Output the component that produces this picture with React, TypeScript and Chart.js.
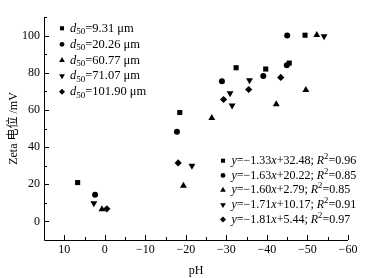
import React, { useEffect, useRef } from 'react';
import { Chart, registerables } from 'chart.js';

Chart.register(...registerables);

// ---- data ----
const xTicks = [10, 0, -10, -20, -30, -40, -50, -60];
const yTicks = [0, 20, 40, 60, 80, 100];
const sizeLabels = ['9.31', '20.26', '60.77', '71.07', '101.90'];
const slopes = ['1.33', '1.63', '1.60', '1.71', '1.81'];
const intercepts = ['32.48', '20.22', '2.79', '10.17', '5.44'];
const r2Values = ['0.96', '0.85', '0.85', '0.91', '0.97'];

const x931 = [6.7, -18.5, -32.4, -39.7, -45.5, -49.4];
const y931 = [20.9, 58.6, 82.7, 82.0, 85.2, 100.2];
const x2026 = [2.4, -17.8, -28.9, -39.1, -44.9, -45.0];
const y2026 = [14.3, 48.2, 75.4, 78.2, 84.0, 100.1];
const x6077 = [0.7, -19.4, -26.4, -42.3, -49.6, -52.3];
const y6077 = [6.5, 19.2, 55.6, 63.1, 70.7, 100.3];
const x7107 = [2.7, -21.5, -30.9, -31.4, -35.7, -54.1];
const y7107 = [9.8, 30.0, 69.0, 62.4, 75.9, 99.7];
const x10190 = [-0.5, -18.1, -29.3, -35.5, -43.4];
const y10190 = [6.8, 31.5, 65.6, 71.0, 77.5];

const seriesX = [x931, x2026, x6077, x7107, x10190];
const seriesY = [y931, y2026, y6077, y7107, y10190];

const markerStyles = ['rect', 'circle', 'triangle', 'triangle', 'rectRot'];
const markerRotations = [0, 0, 0, 180, 0];
const markerRadii = [3.6, 3.0, 4.0, 4.0, 3.6];
const legendRadii = [2.9, 2.4, 3.3, 3.3, 3.0];

const SERIF = '"Liberation Serif", "Times New Roman", serif';

type Part = { t: string; italic?: boolean; sub?: boolean; sup?: boolean };

function drawRich(ctx: CanvasRenderingContext2D, x: number, y: number, parts: Part[], size: number) {
  let cx = x;
  ctx.textAlign = 'left';
  ctx.textBaseline = 'middle';
  ctx.fillStyle = '#000';
  for (const p of parts) {
    const fs = p.sub || p.sup ? size * 0.72 : size;
    ctx.font = `${p.italic ? 'italic ' : ''}${fs}px ${SERIF}`;
    const dy = p.sub ? size * 0.3 : p.sup ? -size * 0.33 : 0;
    ctx.fillText(p.t, cx, y + dy);
    cx += ctx.measureText(p.t).width;
  }
}

function drawMarker(ctx: CanvasRenderingContext2D, style: string, rot: number, x: number, y: number, r: number) {
  ctx.beginPath();
  if (style === 'rect') {
    const s = r * Math.SQRT1_2;
    ctx.rect(x - s, y - s, 2 * s, 2 * s);
  } else if (style === 'circle') {
    ctx.arc(x, y, r, 0, Math.PI * 2);
  } else if (style === 'triangle') {
    let rad = (rot * Math.PI) / 180;
    for (let i = 0; i < 3; i++) {
      const px = x + Math.sin(rad) * r;
      const py = y - Math.cos(rad) * r;
      if (i === 0) ctx.moveTo(px, py);
      else ctx.lineTo(px, py);
      rad += (2 * Math.PI) / 3;
    }
    ctx.closePath();
  } else if (style === 'rectRot') {
    ctx.moveTo(x, y - r);
    ctx.lineTo(x + r, y);
    ctx.lineTo(x, y + r);
    ctx.lineTo(x - r, y);
    ctx.closePath();
  }
  ctx.fillStyle = '#000';
  ctx.fill();
}

const overlayPlugin = {
  id: 'overlay',
  afterDraw(chart: any) {
    const ctx: CanvasRenderingContext2D = chart.ctx;
    const xs = chart.scales.x;
    const ys = chart.scales.y;
    const { left, right, top, bottom } = chart.chartArea;
    ctx.save();
    ctx.strokeStyle = '#000';
    ctx.lineWidth = 1;
    // axis lines
    ctx.beginPath();
    ctx.moveTo(left + 0.5, top);
    ctx.lineTo(left + 0.5, bottom + 0.5);
    ctx.lineTo(right, bottom + 0.5);
    ctx.stroke();
    // x ticks (inward)
    for (let v = 10; v >= -60; v -= 5) {
      const px = Math.round(xs.getPixelForValue(v)) + 0.5;
      const len = v % 10 === 0 ? 5 : 3;
      ctx.beginPath();
      ctx.moveTo(px, bottom);
      ctx.lineTo(px, bottom - len);
      ctx.stroke();
    }
    // y ticks (inward)
    for (let v = 0; v <= 110; v += 10) {
      const py = Math.round(ys.getPixelForValue(v)) + 0.5;
      const len = v % 20 === 0 ? 5 : 3;
      ctx.beginPath();
      ctx.moveTo(left, py);
      ctx.lineTo(left + len, py);
      ctx.stroke();
    }
    // legend 1
    const l1Rows = [28.3, 44.3, 60.3, 76, 91.7];
    sizeLabels.forEach((s, i) => {
      drawMarker(ctx, markerStyles[i], markerRotations[i], 62, l1Rows[i], legendRadii[i]);
      drawRich(ctx, 70, l1Rows[i], [
        { t: 'd', italic: true },
        { t: '50', sub: true },
        { t: '=' + s + ' \u03bcm' },
      ], 12.5);
    });
    // legend 2
    const l2Rows = [160.7, 175.4, 190.1, 204.8, 219.5];
    slopes.forEach((s, i) => {
      drawMarker(ctx, markerStyles[i], markerRotations[i], 223, l2Rows[i], legendRadii[i]);
      drawRich(ctx, 231.5, l2Rows[i], [
        { t: 'y', italic: true },
        { t: '=\u2212' + s },
        { t: 'x', italic: true },
        { t: '+' + intercepts[i] + '; ' },
        { t: 'R', italic: true },
        { t: '2', sup: true },
        { t: '=' + r2Values[i] },
      ], 12);
    });
    ctx.restore();
  },
};

export default function App() {
  const ref = useRef<HTMLCanvasElement | null>(null);
  useEffect(() => {
    if (!ref.current) return;
    const datasets = seriesX.map((xs, i) => ({
      label: sizeLabels[i],
      data: xs.map((x, j) => ({ x, y: seriesY[i][j] })),
      showLine: false,
      pointStyle: markerStyles[i] as any,
      pointRotation: markerRotations[i],
      pointRadius: markerRadii[i],
      pointBackgroundColor: '#000',
      pointBorderColor: '#000',
      pointBorderWidth: 0,
      backgroundColor: '#000',
      borderColor: '#000',
    }));
    const chart = new Chart(ref.current, {
      type: 'scatter',
      data: { datasets },
      options: {
        animation: false,
        responsive: true,
        maintainAspectRatio: false,
        layout: { padding: { top: 17, right: 30, left: 0, bottom: 0 } },
        plugins: { legend: { display: false }, tooltip: { enabled: false } },
        scales: {
          x: {
            type: 'linear',
            reverse: true,
            min: -60,
            max: 15,
            afterBuildTicks: (s: any) => {
              s.ticks = xTicks.map((v) => ({ value: v }));
            },
            afterFit: (s: any) => {
              s.height = 38;
            },
            grid: { display: false, drawTicks: false, tickLength: 0 },
            border: { display: false },
            ticks: {
              color: '#000',
              padding: 3,
              font: { family: SERIF, size: 12 },
              maxRotation: 0,
              callback: (v: any) => String(v).replace('-', '\u2212'),
            },
            title: {
              display: true,
              text: 'pH',
              color: '#000',
              font: { family: SERIF, size: 12 },
              padding: { top: 3, bottom: 0 },
            },
          },
          y: {
            type: 'linear',
            min: -10,
            max: 110,
            afterBuildTicks: (s: any) => {
              s.ticks = yTicks.map((v) => ({ value: v }));
            },
            afterFit: (s: any) => {
              s.width = 44;
            },
            grid: { display: false, drawTicks: false, tickLength: 0 },
            border: { display: false },
            ticks: {
              color: '#000',
              padding: 4,
              font: { family: SERIF, size: 12 },
            },
            title: {
              display: true,
              text: 'Zeta 电位 /mV',
              color: '#000',
              font: { family: '"Liberation Serif", "Noto Sans CJK SC", serif', size: 12 },
              padding: { top: 7, bottom: 0 },
            },
          },
        },
      },
      plugins: [overlayPlugin],
    });
    return () => chart.destroy();
  }, []);
  return (
    <div style={{ position: 'absolute', left: 0, top: 0, width: 378, height: 278, background: '#fff' }}>
      <canvas ref={ref} />
    </div>
  );
}
